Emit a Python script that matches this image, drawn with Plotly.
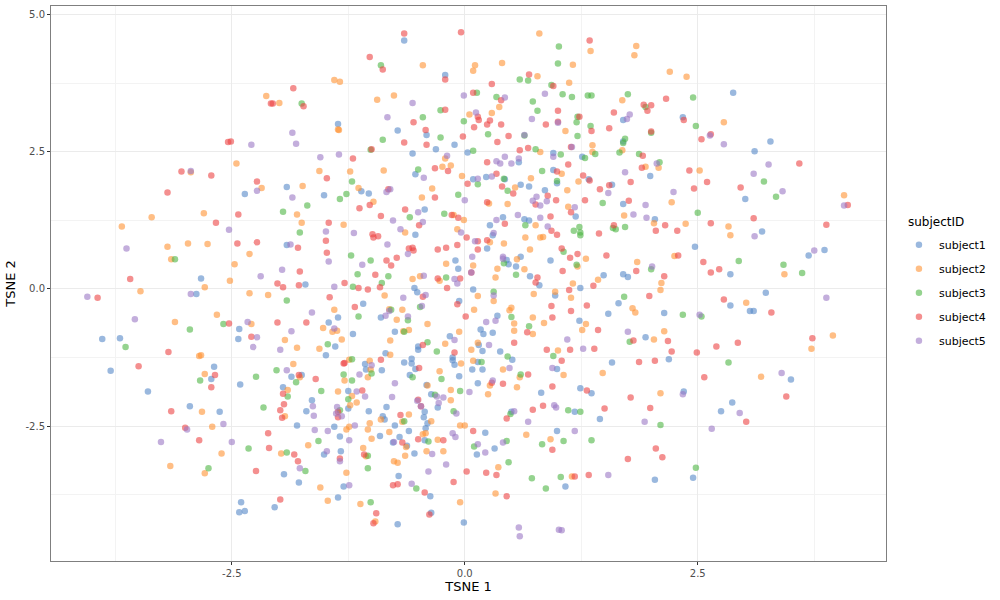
import plotly.graph_objects as go

series_names = ["subject1", "subject2", "subject3", "subject4", "subject5"]
series_colors = ["#5789C8", "#FF9334", "#4EB644", "#ED4444", "#9B78C5"]
x_tick_vals = [-2.5, 0.0, 2.5]
x_tick_text = ["-2.5", "0.0", "2.5"]
y_tick_vals = [-2.5, 0.0, 2.5, 5.0]
y_tick_text = ["-2.5", "0.0", "2.5", "5.0"]

subject1 = [(-1.91,1.86),(-2.36,1.73),(-1.51,1.71),(-1.91,0.80),(-2.83,0.19),(-1.71,0.08),(-2.88,-0.09),(-1.46,-0.61),(-2.42,-0.73),(-3.89,-0.91),(-3.70,-0.90),(-2.43,-0.91),(-1.49,-1.21),(-3.80,-1.49),(-2.69,-1.42),(-1.86,-1.60),(-1.75,-1.57),(-2.72,-1.64),(-2.41,-1.74),
(-3.40,-1.87),(-1.95,-1.79),(-1.64,-2.03),(-2.95,-2.14),(-2.63,-2.24),(-1.70,-2.23),(-1.80,-2.49),(-1.51,-3.02),(-1.94,-3.38),(-1.78,-3.53),(-2.40,-3.89),(-2.04,-3.98),(-2.42,-4.07),(-2.36,-4.05),
(-0.65,4.53),(-0.21,3.90),(-1.36,3.01),(-0.72,2.89),(-0.41,2.81),(-0.11,2.63),(-0.31,2.55),(0.03,2.49),(0.95,2.48),(-0.56,2.47),(1.26,2.41),(0.58,2.31),(0.95,2.17),(-0.53,2.09),(0.09,2.00),(0.23,2.04),(0.43,2.00),(1.33,2.00),(0.99,1.93),(0.60,1.90),(0.69,1.87),(-1.11,1.78),(-1.03,1.74),(0.86,1.80),
(-0.43,1.45),(1.19,1.32),(0.41,1.31),(0.27,1.16),(0.64,1.27),(0.69,1.25),(-0.53,0.99),(0.30,0.98),(0.24,0.74),(0.92,0.52),(0.45,0.53),(0.60,0.59),(-0.10,0.52),(0.47,0.45),(0.55,0.41),(-0.07,0.37),(1.49,0.25),(0.70,0.23),(0.80,0.07),(-0.54,0.02),(0.09,-0.01),(1.24,0.02),(-0.51,-0.06),(0.97,-0.12),(-0.06,-0.22),(-1.09,-0.27),(-0.90,-0.52),(-1.36,-0.52),(1.54,-0.45),(0.35,-0.49),(1.23,-0.58),(0.17,-0.74),(-0.75,-0.78),(0.30,-0.80),(0.20,-0.82),(-1.20,-0.82),(-0.16,-0.86),(0.15,-1.02),(-0.50,-1.05),(-0.50,-1.11),(-1.39,-1.05),(0.19,-1.13),(0.38,-1.14),(-0.85,-1.17),(0.51,-1.29),(-0.13,-1.25),(-0.13,-1.30),(0.14,-1.33),(-0.57,-1.27),(-0.65,-1.34),(-0.57,-1.36),(-0.11,-1.38),(-1.07,-1.37),(-1.06,-1.47),(-0.89,-1.48),(-0.53,-1.46),(0.08,-1.47),(0.19,-1.47),(0.99,-1.46),(-0.59,-1.57),(-0.06,-1.59),(-0.41,-1.75),(0.14,-1.72),
(1.24,-1.81),(1.36,-1.90),(-1.25,-1.86),(-1.25,-2.18),(-1.03,-2.23),(-0.84,-2.15),(-0.88,-2.32),(-0.86,-2.38),(-0.36,-1.92),(0.82,-1.89),(-0.29,-2.16),(-0.43,-2.24),(-0.44,-2.34),(-0.40,-2.45),(0.50,-2.24),(1.18,-2.24),(1.45,-2.37),(-1.40,-2.51),(-0.75,-2.49),(-0.42,-2.54),(0.22,-2.62),(-0.60,-2.59),(0.99,-2.59),(-1.34,-2.69),(-0.91,-2.68),(-0.70,-2.70),(-0.43,-2.76),(-0.77,-2.80),(-0.62,-2.86),(0.32,-2.91),(-1.33,-2.96),(-0.54,-3.00),(0.13,-3.02),(-0.71,-3.41),(-1.30,-3.60),(1.08,-3.60),(-0.37,-3.78),(-1.36,-3.80),(-0.36,-4.08),(-0.72,-4.29),(-0.01,-4.26),
(2.88,3.58),(1.70,3.08),(2.34,3.13),(1.70,2.69),(3.28,2.69),(3.11,2.51),(1.99,2.06),(1.58,1.90),(3.01,1.64),(1.70,1.55),(2.04,1.27),(3.19,1.05),(2.47,0.77),(3.86,0.71),(3.69,0.61),(2.85,0.27),(1.70,0.27),(1.75,0.22),(3.23,-0.07),(1.65,-0.26),(2.85,-0.30),(3.06,-0.40),(3.10,-0.40),(2.14,-0.44),(1.94,-0.88),(2.19,-1.28),(1.58,-1.34),(3.50,-1.65),(2.35,-1.87),(2.87,-2.07),(2.75,-2.23),(2.45,-3.44),(2.04,-3.48)]

subject2 = [(-2.13,3.52),(-1.99,3.39),(-2.45,2.29),(-1.56,2.15),(-2.94,2.13),(-2.18,1.84),(-1.74,1.88),
(-2.80,1.38),(-1.80,1.36),(-3.36,1.31),(-3.68,1.14),(-1.75,1.21),(-3.19,0.77),(-2.97,0.83),(-2.76,0.82),(-2.31,0.64),(-3.15,0.54),(-2.47,0.45),(-2.52,0.15),(-2.79,0.03),(-3.48,-0.04),(-2.31,-0.08),(-2.11,-0.11),(-2.66,-0.47),(-3.11,-0.60),(-2.29,-0.64),(-1.52,-0.71),(-1.93,-0.93),(-1.80,-1.07),(-1.56,-1.09),(-2.85,-1.22),(-2.83,-1.21),(-1.84,-1.37),(-2.79,-1.55),(-1.77,-1.61),
(-1.90,-1.84),(-2.82,-2.24),(-1.93,-2.32),(-2.71,-2.51),(-1.68,-2.85),(-2.61,-3.00),(-1.97,-3.00),(-3.16,-3.23),(-2.79,-3.36),(-1.55,-3.62),(-1.47,-3.86),
(-1.40,3.81),(-1.34,3.78),(0.80,4.66),(1.35,4.34),(-0.45,4.08),(0.11,4.08),(0.09,3.98),(0.40,4.12),(1.16,4.09),(0.78,3.88),(1.12,3.76),(-0.94,3.45),(-0.76,3.53),(0.37,3.32),(0.29,3.21),(0.05,3.18),(-1.36,2.91),(-1.35,2.90),(1.08,2.88),(1.37,2.62),(0.81,2.50),(1.37,2.50),(-0.21,2.38),(-0.24,2.23),(-0.15,2.25),(-1.23,2.14),(-0.87,2.16),(1.04,2.10),(-0.03,2.06),(0.71,2.02),(1.22,1.96),(0.54,1.85),(-0.35,1.83),(-1.14,1.84),(1.10,1.80),(-0.46,1.67),
(0.26,1.56),(0.46,1.55),(-0.98,1.59),(1.11,1.50),(-0.12,1.35),(-0.01,1.26),(-1.30,1.17),(0.76,1.16),(0.84,0.95),(0.81,0.94),(0.65,0.94),(-0.08,1.09),(-0.64,1.03),(0.27,0.85),(0.42,0.83),(0.70,0.72),(1.30,0.55),(0.56,0.54),(-0.20,0.46),(0.09,0.43),(0.35,0.37),(0.64,0.36),(1.21,0.41),(1.43,0.17),(-0.48,0.23),(-0.56,0.18),(-0.27,0.15),(0.33,0.21),(1.16,0.10),(0.97,-0.05),(-0.86,-0.12),(0.14,-0.13),(0.74,-0.09),(1.14,-0.16),(0.31,-0.22),(-1.40,-0.38),(-0.81,-0.37),(-0.67,-0.38),(0.10,-0.38),(0.50,-0.34),(0.48,-0.39),(0.73,-0.52),(-0.73,-0.56),(0.53,-0.63),(0.85,-0.62),(1.30,-0.64),(-0.40,-0.64),(0.53,-0.76),(1.26,-0.75),(-0.66,-0.77),(-0.60,-0.75),(-0.06,-0.78),(0.73,-0.82),(-1.42,-0.78),(-1.37,-0.76),(-1.32,-0.92),(-0.80,-0.94),(-0.21,-1.00),(0.14,-0.98),(1.00,-1.12),(0.07,-1.11),(-0.80,-1.20),(0.09,-1.31),(-0.04,-1.36),(-1.24,-1.29),(-1.02,-1.31),(-1.01,-1.47),(-0.27,-1.50),(0.41,-1.47),(1.48,-1.53),(-1.04,-1.61),(0.59,-1.61),(1.06,-1.57),(-1.29,-1.67),(-0.40,-1.76),(0.27,-1.76),(0.56,-1.79),
(-1.36,-1.87),(-1.21,-1.95),(-1.16,-2.07),(-1.23,-2.12),(-0.60,-2.29),(-0.90,-2.38),(-0.67,-2.42),(-0.15,-2.03),(-0.15,-1.84),(0.25,-1.92),(-0.36,-2.41),(-1.24,-2.51),(-1.02,-2.45),(-0.05,-2.49),(0.00,-2.49),(-1.27,-2.56),(-1.04,-2.56),(-0.81,-2.61),(-0.42,-2.63),(-0.45,-2.65),(0.66,-2.66),(-1.00,-2.73),(-0.29,-2.75),(0.92,-2.74),(-0.63,-2.88),(-1.09,-2.90),(-0.41,-2.96),(-0.23,-2.96),(-0.64,-3.04),(-1.06,-3.05),(-0.76,-3.14),(-0.72,-3.17),(0.36,-3.25),(-1.27,-3.35),(1.15,-3.42),(0.33,-3.73),(-1.12,-3.92),(-0.05,-3.89),(-0.96,-4.24),
(1.84,4.43),(1.82,4.26),(2.20,3.96),(2.38,3.87),(1.69,3.44),(2.78,3.04),(1.69,2.53),(2.08,2.21),(1.94,2.23),(2.52,2.16),(4.07,1.71),(2.22,1.58),(1.71,1.34),(2.03,1.20),(2.37,1.19),(2.83,1.14),(2.85,0.98),(2.25,0.60),(1.85,0.49),(3.43,0.27),(2.11,0.11),(2.10,-0.02),(3.02,-0.25),(1.80,-0.35),(1.83,-0.43),(2.14,-0.77),(3.95,-0.85),(2.03,-0.92),(3.72,-1.09),(3.18,-1.60),(2.10,-1.90)]

subject3 = [(-1.75,3.38),(-1.69,1.52),(-1.95,1.41),(-1.77,1.03),(-3.11,0.54),(-1.91,-0.21),(-2.59,-0.64),(-2.95,-0.74),(-1.47,-1.01),(-3.64,-1.06),(-2.02,-1.48),(-2.24,-1.60),(-2.84,-1.67),(-1.81,-1.70),
(-1.90,-1.96),(-1.54,-1.86),(-2.16,-2.16),(-1.57,-2.77),(-2.32,-2.91),(-1.91,-2.98),(-2.75,-3.27),(-1.71,-3.32),
(1.01,4.42),(-0.90,4.08),(1.00,4.11),(0.59,3.82),(0.68,3.80),(0.93,3.72),(0.13,3.58),(0.34,3.50),(1.05,3.55),(1.15,3.50),(1.32,3.53),(1.36,3.53),(0.73,3.42),(-0.26,3.26),(0.78,3.25),(-0.45,3.13),(-0.01,3.06),(1.21,3.14),(1.20,3.04),(1.35,2.97),(0.25,2.82),(0.64,2.80),(1.21,2.79),(-0.88,2.72),(-0.26,2.76),(-1.01,2.54),(0.76,2.55),(0.09,2.52),(1.40,2.46),(1.03,2.45),(1.29,2.39),(-0.50,2.18),(0.83,2.15),(0.42,2.01),(0.99,1.97),(-1.21,1.96),(0.14,1.91),(0.46,1.79),(-1.27,1.73),(-0.07,1.72),
(-1.34,1.64),(1.48,1.57),(-0.22,1.37),(-0.59,1.31),(0.65,1.16),(1.23,1.13),(1.17,1.06),(1.24,1.03),(1.24,0.98),(1.06,0.68),(-1.22,0.61),(-1.01,0.52),(0.42,0.47),(1.20,0.44),(-1.15,0.27),(-0.82,0.23),(-0.20,0.21),(0.55,0.26),(-0.89,0.11),(-1.20,0.04),(0.31,-0.05),(-0.48,-0.33),(-0.79,-0.38),(-1.14,-0.50),(0.50,-0.51),(-0.61,-0.57),(0.69,-0.68),(-0.65,-0.78),(-0.40,-0.97),(-0.30,-1.14),(0.95,-1.22),(0.46,-1.23),(0.18,-1.33),(-1.21,-1.28),(-1.00,-1.54),(-1.30,-1.56),(-0.56,-1.61),(-0.25,-1.64),(0.60,-1.56),(-1.21,-1.67),
(-1.25,-2.01),(-1.34,-2.21),(-0.65,-2.41),(-0.32,-1.93),(-0.05,-1.86),(-0.12,-2.23),(0.49,-2.28),(1.11,-2.21),(1.24,-2.24),(-0.39,-2.78),(1.06,-2.77),(1.36,-2.76),(0.45,-2.77),(0.10,-2.87),(0.83,-2.83),(-1.04,-3.04),(0.47,-3.16),(-1.04,-3.27),(1.03,-3.43),(0.72,-3.45),(-0.52,-3.64),(0.87,-3.64),(-1.01,-3.89),
(1.75,3.55),(2.45,3.49),(1.94,3.32),(2.48,2.97),(2.00,2.85),(1.72,2.74),(1.70,2.66),(1.66,2.49),(1.87,2.46),(2.09,2.31),(3.21,1.96),(3.34,1.68),(2.50,1.39),(1.59,1.11),(1.62,1.09),(1.72,1.13),(2.94,0.51),(3.42,0.44),(2.00,0.36),(3.62,0.29),(1.71,-0.14),(2.34,-0.47),(2.54,-0.50),(1.77,-0.96),(2.83,-1.34),(2.10,-2.48),(2.48,-3.26)]

subject4 = [(-1.84,3.66),(-2.08,3.38),(-2.06,3.38),(-1.73,3.33),(-2.54,2.68),(-2.51,2.69),(-1.48,2.02),(-3.04,2.14),(-2.72,2.07),(-2.23,1.96),(-3.19,1.76),
(-2.43,1.36),(-2.67,1.21),(-1.46,1.21),(-1.49,0.88),(-2.44,0.83),(-2.23,0.85),(-1.79,0.75),(-1.48,0.66),(-1.77,0.32),(-3.59,0.18),(-2.01,0.10),(-1.95,0.03),(-1.78,0.07),(-3.94,-0.16),(-1.45,-0.15),(-2.53,-0.63),(-2.01,-0.61),(-1.70,-0.61),(-2.29,-0.87),(-3.18,-1.15),(-3.50,-1.41),(-2.68,-1.57),(-1.78,-1.57),(-1.60,-1.64),
(-2.72,-1.79),(-1.95,-1.91),(-1.94,-2.10),(-3.15,-2.23),(-1.98,-2.21),(-1.96,-2.35),(-3.00,-2.53),(-2.11,-2.63),(-2.85,-2.76),(-2.10,-2.90),(-1.83,-3.02),(-1.79,-3.14),(-2.24,-3.32),(-1.98,-3.84),
(-0.65,4.66),(-0.04,4.68),(1.34,4.53),(-1.02,4.23),(-0.88,4.00),(-0.21,3.82),(0.69,3.91),(0.29,3.74),(0.95,3.70),(0.09,3.58),(0.39,3.44),(-0.21,3.27),(1.00,3.25),(0.14,3.14),(0.15,3.08),(-0.55,3.04),(0.27,3.07),(1.23,3.14),(1.00,3.05),(0.24,3.00),(0.39,3.00),(0.87,3.00),(0.10,2.95),(-0.42,2.90),(1.36,2.88),(1.55,2.93),(0.47,2.79),(-0.02,2.78),(-0.65,2.67),(-0.41,2.63),(0.35,2.68),(1.14,2.59),(-1.00,2.55),(0.59,2.53),(0.68,2.57),(-1.20,2.38),(0.24,2.31),(1.11,2.27),(-0.32,2.20),(-0.18,2.15),(0.99,2.14),(0.34,2.10),(1.27,2.07),(1.34,1.98),(0.03,1.92),(0.40,1.87),(-0.82,1.82),(0.52,1.74),(1.45,1.82),(1.55,1.89),(0.89,1.70),(-0.32,1.67),
(0.24,1.58),(0.76,1.54),(0.98,1.62),(1.29,1.62),(-1.02,1.53),(-1.13,1.47),(-0.64,1.45),(1.14,1.40),(-0.14,1.35),(-0.07,1.30),(-0.90,1.33),(-0.49,1.16),(0.43,1.19),(0.92,1.32),(0.93,1.06),(1.44,1.01),(0.99,0.99),(-0.99,1.00),(-0.98,0.94),(-0.93,0.96),(0.02,0.94),(0.24,0.89),(0.14,0.87),(-0.08,0.80),(0.14,0.72),(-0.60,0.74),(-0.56,0.75),(-0.55,0.70),(-0.29,0.72),(-0.20,0.75),(1.04,0.74),(1.21,0.64),(1.13,0.57),(1.52,0.61),(-0.84,0.52),(-0.73,0.57),(-0.79,0.43),(1.05,0.33),(-0.96,0.26),(-0.29,0.19),(-0.05,0.19),(0.07,0.30),(0.78,0.21),(0.76,0.12),(1.38,0.06),(-1.29,0.11),(-1.14,0.02),(-1.04,-0.01),(-0.91,0.03),(-0.19,0.02),(1.12,-0.02),(-0.45,-0.14),(-0.08,-0.28),(-1.18,-0.33),(0.93,-0.31),(1.31,-0.30),(1.14,-0.40),(0.01,-0.50),(0.94,-0.52),(1.43,-0.75),(0.67,-0.79),(-0.45,-1.02),(0.53,-0.98),(0.88,-1.11),(1.13,-1.11),(1.39,-1.09),(-0.11,-1.16),(1.04,-1.31),(-0.90,-1.29),(-1.29,-1.35),(-1.30,-1.36),(-0.49,-1.44),(0.68,-1.56),(0.29,-1.71),(0.41,-1.73),(0.94,-1.78),
(1.31,-1.85),(-1.10,-1.85),(-1.36,-2.24),(-1.36,-2.34),(-0.69,-2.30),(-0.50,-2.02),(-0.47,-2.14),(0.45,-2.36),(0.73,-2.20),(0.84,-2.13),(1.50,-2.18),(0.09,-2.59),(-0.50,-2.74),(-0.23,-2.76),(-0.67,-2.80),(0.94,-2.93),(-1.08,-3.02),(-1.34,-3.09),(0.02,-3.33),(0.23,-3.35),(0.34,-3.39),(1.33,-3.39),(1.18,-3.42),(-0.12,-3.52),(-0.77,-3.58),(-0.72,-3.56),(-0.43,-3.71),(0.45,-3.78),(-0.38,-4.11),(-0.95,-4.09),(-0.98,-4.27),
(2.16,3.47),(1.92,3.36),(2.00,3.35),(1.96,3.25),(1.60,3.22),(2.35,3.08),(2.00,2.87),(2.64,2.82),(2.54,2.73),(1.91,2.43),(1.90,2.21),(3.59,2.29),(2.41,2.16),(2.60,1.95),(1.78,1.95),(2.96,1.85),(2.46,1.83),(4.11,1.53),(1.76,1.61),(3.10,1.29),(2.64,1.20),(2.15,1.16),(3.88,1.17),(1.60,1.16),(2.05,1.06),(2.28,1.06),(2.29,0.61),(2.56,0.49),(1.84,0.33),(2.73,0.36),(2.64,0.30),(2.14,0.23),(1.98,-0.13),(2.78,-0.19),(3.29,-0.43),(3.73,-0.90),(2.18,-0.95),(1.81,-0.94),(2.93,-0.98),(2.70,-1.05),(2.22,-1.14),(2.49,-1.16),(1.87,-1.33),(2.04,-1.31),(2.57,-1.61),(1.78,-1.98),(3.45,-1.96),(1.99,-2.17),(3.02,-2.42),(2.05,-2.91),(1.75,-3.10),(2.12,-3.07)]

subject5 = [(-1.85,2.85),(-1.81,2.65),(-2.29,2.63),(-1.55,2.40),(-2.94,2.15),(-2.23,1.79),(-1.85,1.67),
(-2.53,1.08),(-1.49,1.05),(-3.63,0.74),(-1.87,0.81),(-1.46,0.50),(-1.96,0.35),(-2.19,0.23),(-4.05,-0.14),(-2.94,-0.09),(-1.64,-0.43),(-3.54,-0.55),(-2.33,-0.60),(-1.86,-0.77),(-2.23,-0.88),(-2.27,-1.06),(-1.98,-1.11),(-1.91,-1.48),
(-1.63,-2.14),(-1.62,-2.31),(-2.59,-2.46),(-2.98,-2.56),(-1.61,-2.57),(-1.47,-2.59),(-3.26,-2.79),(-2.50,-2.79),(-1.48,-2.96),(-1.77,-3.27),
(-0.56,3.39),(-0.01,3.53),(0.43,3.49),(0.86,3.56),(0.12,3.22),(-0.83,3.13),(0.72,3.10),(1.00,3.03),(0.64,2.81),(1.15,2.59),(0.95,2.41),(-1.35,2.45),(-0.19,2.43),(0.43,2.41),(0.58,2.38),(0.34,2.33),(0.38,2.29),(0.50,2.29),(-0.44,2.03),(0.14,2.01),(0.29,2.05),(-0.80,1.82),(-0.84,1.77),(1.54,1.75),(0.77,1.68),
(0.00,1.62),(0.73,1.61),(0.81,1.52),(0.88,1.60),(1.18,1.49),(-0.50,1.40),(0.57,1.35),(0.34,1.26),(0.81,1.30),(-0.77,1.25),(-0.45,1.22),(0.89,1.14),(-0.04,1.03),(-0.69,1.09),(-1.19,1.02),(0.31,1.02),(0.11,0.87),(-0.83,0.81),(-0.61,0.64),(0.08,0.59),(0.41,0.59),(0.41,0.55),(-1.10,0.44),(-0.44,0.24),(-0.11,0.18),(-0.08,0.10),(0.07,0.30),(-1.40,0.04),(0.31,-0.12),(-0.42,-0.11),(-0.66,-0.16),(-0.46,-0.31),(-0.81,-0.40),(-0.85,-0.49),(-0.61,-0.50),(0.23,-0.60),(0.33,-0.58),(-1.40,-0.72),(-0.11,-0.93),(1.10,-0.92),(0.26,-1.02),(1.27,-1.09),(-1.00,-1.39),(0.48,-1.44),(0.94,-1.44),(-1.13,-1.56),(0.30,-1.67),(-0.75,-1.72),
(-1.16,-1.87),(-1.07,-1.96),(-1.37,-2.15),(-1.38,-2.27),(-1.32,-2.32),(-0.78,-1.97),(-0.30,-1.96),(-0.23,-1.98),(0.05,-1.88),(-0.51,-2.04),(-0.28,-2.08),(-0.47,-2.14),(-0.09,-2.27),(0.53,-2.23),(0.96,-2.12),(0.98,-2.16),(0.68,-2.42),(-1.18,-2.49),(-0.13,-2.63),(-0.10,-2.70),(1.18,-2.59),(-1.24,-2.76),(-0.76,-2.79),(0.41,-2.80),(0.14,-2.83),(-0.35,-3.01),(0.22,-2.98),(-1.34,-3.14),(-0.20,-3.20),(-0.39,-3.33),(1.54,-3.39),(-0.57,-3.55),(-1.24,-3.58),(0.58,-4.35),(0.59,-4.51),(1.01,-4.39),(1.04,-4.40),
(1.77,3.18),(1.74,3.10),(2.63,2.80),(2.78,2.64),(2.06,2.29),(3.26,2.27),(1.72,2.13),(3.10,2.10),(2.24,1.77),(3.41,1.78),(4.07,1.52),(1.94,1.53),(1.81,1.36),(1.95,1.30),(3.11,0.96),(3.75,0.70),(2.01,0.41),(3.88,-0.16),(2.52,-0.47),(1.75,-0.78),(3.40,-1.53),(2.34,-1.92),(2.95,-2.26),(1.93,-2.42),(2.65,-2.55)]

series_points = [subject1, subject2, subject3, subject4, subject5]

fig = go.Figure()
for name, color, pts in zip(series_names, series_colors, series_points):
    fig.add_trace(go.Scatter(
        x=[p[0] for p in pts], y=[p[1] for p in pts],
        mode="markers", name=name, legendgroup=name,
        marker=dict(color=color, size=6.5, opacity=0.6, line=dict(width=0)),
    ))

tick_font = dict(family="DejaVu Sans", size=10, color="#4D4D4D")
title_font = dict(family="DejaVu Sans", size=13, color="#000000")
axis_common = dict(
    showgrid=True, gridcolor="#EBEBEB", gridwidth=1,
    zeroline=False, showline=True, linecolor="#7F7F7F", linewidth=1, mirror=True,
    ticks="outside", ticklen=3, tickcolor="#333333", tickwidth=1,
    tickfont=tick_font,
    minor=dict(dtick=1.25, tick0=0, showgrid=True, gridcolor="#F3F3F3", gridwidth=1, ticks=""),
)
fig.update_xaxes(range=[-4.44, 4.52], tickmode="array", tickvals=x_tick_vals, ticktext=x_tick_text,
                 title=dict(text="TSNE 1", font=title_font, standoff=2), **axis_common)
fig.update_yaxes(range=[-4.96, 5.16], tickmode="array", tickvals=y_tick_vals, ticktext=y_tick_text,
                 title=dict(text="TSNE 2", font=title_font, standoff=6), **axis_common)
fig.add_annotation(
    text="subjectID", xref="paper", yref="paper", x=1.0263, y=0.6108,
    xanchor="left", yanchor="middle", showarrow=False, xshift=-2,
    font=dict(family="DejaVu Sans", size=12, color="#000000"),
)
fig.update_layout(
    width=1000, height=600, autosize=False,
    margin=dict(l=51, r=114, t=6, b=39),
    paper_bgcolor="white", plot_bgcolor="white",
    font=dict(family="DejaVu Sans"),
    legend=dict(
        font=dict(family="DejaVu Sans", size=11, color="#000000"),
        x=1.0155, xanchor="left", y=0.596, yanchor="top",
        tracegroupgap=5, itemsizing="trace", bgcolor="rgba(0,0,0,0)",
    ),
)
fig.write_html("out.html", config={"displayModeBar": False},
               post_script="document.body.style.margin='0';window.dispatchEvent(new Event('resize'));")
